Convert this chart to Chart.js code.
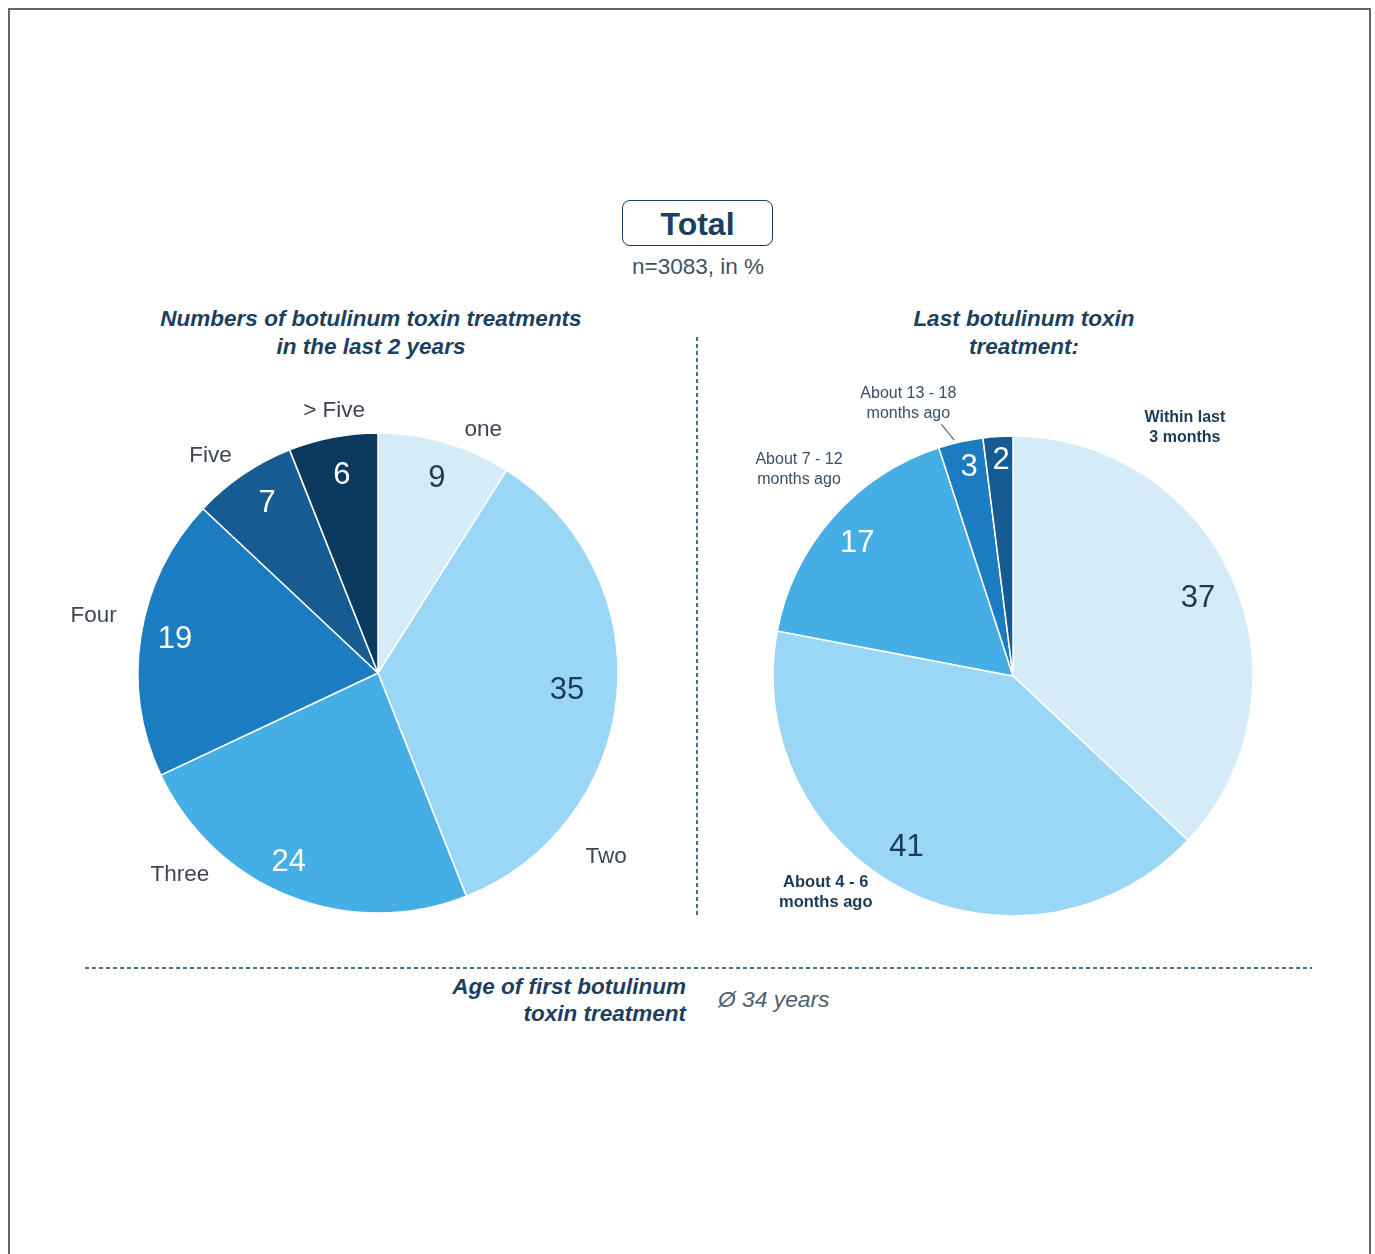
<!DOCTYPE html>
<html>
<head>
<meta charset="utf-8">
<script src="https://cdn.jsdelivr.net/npm/chart.js@4/dist/chart.umd.min.js"></script>
<style>
  html, body { margin: 0; padding: 0; background: #fff; }
  body { width: 1375px; height: 1254px; position: relative; overflow: hidden;
         font-family: "Liberation Sans", Arial, Helvetica, sans-serif; }
  .frame { position: absolute; left: 8px; top: 8px; width: 1359px; height: 1260px;
           border: 2px solid #666; border-bottom: none; }
  .abs { position: absolute; white-space: nowrap; }
  .total-box { position: absolute; left: 622px; top: 200px; width: 149px; height: 44px;
               border: 1.6px solid #1d3f5e; border-radius: 8px; text-align: center;
               font-weight: bold; font-size: 32px; line-height: 46px; color: #1d3f5e; }
  .sub { left: 598px; width: 200px; top: 254px; text-align: center; font-size: 22.5px; color: #3f5366; }
  .title { font-weight: bold; font-style: italic; font-size: 22.5px; line-height: 28px;
           color: #1d3f5e; text-align: center; }
  .vdash { position: absolute; left: 696px; top: 337px; width: 1.6px; height: 578px;
           background: repeating-linear-gradient(to bottom, #4d6d87 0 4px, transparent 4px 7px); }
  .hdash { position: absolute; left: 85px; top: 967px; width: 1227px; height: 1.6px;
           background: repeating-linear-gradient(to right, #4d6d87 0 4px, transparent 4px 7px); }
  canvas { position: absolute; }
</style>
</head>
<body>
<div class="frame"></div>

<div class="total-box">Total</div>
<div class="abs sub">n=3083, in %</div>

<div class="abs title" style="left:121px; width:500px; top:305px;">Numbers of botulinum toxin treatments<br>in the last 2 years</div>
<div class="abs title" style="left:824px; width:400px; top:305px;">Last botulinum toxin<br>treatment:</div>

<div class="vdash"></div>
<div class="hdash"></div>

<div class="abs title" style="left:386px; width:300px; top:973px; text-align:right; line-height:27px;">Age of first botulinum<br>toxin treatment</div>
<div class="abs" style="left:718px; top:986px; font-size:22.8px; font-style:italic; color:#505d6a;">Ø 34 years</div>

<div style="position:absolute; left:58px; top:373px; width:640px; height:600px;"><canvas id="countChart"></canvas></div>
<div style="position:absolute; left:693px; top:376px; width:640px; height:600px;"><canvas id="lastChart"></canvas></div>

<script>
// Number of treatments in the last 2 years (share in %)
const countLabels = ['one', 'Two', 'Three', 'Four', 'Five', '> Five'];
const countShares = [9, 35, 24, 19, 7, 6];

// Time since the last treatment (share in %)
const lastLabels = [
  ['Within last', '3 months'],
  ['About 4 - 6', 'months ago'],
  ['About 7 - 12', 'months ago'],
  ['About 13 - 18', 'months ago'],
  ['']
];
const lastShares = [37, 41, 17, 3, 2];

const blues = ['#d5ebf8', '#9ad6f5', '#45aee4', '#1c7cc2', '#165b92', '#0c3a5e'];
const navy = '#1b3a57';
const labelGrey = '#3d4652';

// Draws the value inside each slice and the category name around the pie.
const sliceLabels = {
  id: 'sliceLabels',
  afterDatasetsDraw(chart, args, opts) {
    const ctx = chart.ctx;
    const meta = chart.getDatasetMeta(0);
    const data = chart.data.datasets[0].data;
    const rad = d => d * Math.PI / 180;
    ctx.save();
    meta.data.forEach((arc, i) => {
      const { x, y, startAngle, endAngle, outerRadius } = arc.getProps(['x', 'y', 'startAngle', 'endAngle', 'outerRadius'], true);
      // value label
      const v = opts.values[i] || [0, 0.855];
      const a = (startAngle + endAngle) / 2 + rad(v[0]);
      const r = outerRadius * v[1];
      ctx.font = opts.valueFont;
      ctx.textAlign = 'center';
      ctx.textBaseline = 'middle';
      ctx.fillStyle = opts.valueColors[i];
      ctx.fillText(String(data[i]), x + r * Math.cos(a), y + r * Math.sin(a) + 3);

      // category label (angle clockwise from 12 o'clock, distance from centre)
      const c = opts.cats[i];
      if (!c) return;
      const ca = rad(c.angle - 90);
      const cx = x + c.dist * Math.cos(ca);
      const cy = y + c.dist * Math.sin(ca);
      const lines = [].concat(chart.data.labels[i]);
      ctx.font = c.font || opts.catFont;
      ctx.fillStyle = c.color || labelGrey;
      const lh = c.lineHeight || 20;
      lines.forEach((t, k) => {
        ctx.fillText(t, cx, cy + (k - (lines.length - 1) / 2) * lh);
      });
      if (c.leader) {
        // short pointer from the label to the slice edge
        const edge = startAngle + (endAngle - startAngle) * c.leader.at;
        const ex = x + (outerRadius + 3) * Math.cos(edge);
        const ey = y + (outerRadius + 3) * Math.sin(edge);
        const la = rad(c.leader.angle - 90);
        ctx.strokeStyle = '#4d6d87';
        ctx.lineWidth = 1.2;
        ctx.beginPath();
        ctx.moveTo(x + c.leader.dist * Math.cos(la), y + c.leader.dist * Math.sin(la));
        ctx.lineTo(ex, ey);
        ctx.stroke();
      }
    });
    ctx.restore();
  }
};

function pieOptions(labelOpts) {
  return {
    responsive: true,
    maintainAspectRatio: false,
    animation: false,
    radius: 240,
    layout: { padding: 0 },
    plugins: {
      legend: { display: false },
      tooltip: { enabled: false },
      sliceLabels: labelOpts
    }
  };
}

new Chart(document.getElementById('countChart'), {
  type: 'pie',
  data: {
    labels: countLabels,
    datasets: [{
      data: countShares,
      backgroundColor: blues,
      borderColor: '#ffffff',
      borderWidth: 1.5
    }]
  },
  options: pieOptions({
    valueFont: '31px "Liberation Sans", Arial, sans-serif',
    catFont: '22.5px "Liberation Sans", Arial, sans-serif',
    valueColors: [navy, navy, '#ffffff', '#ffffff', '#ffffff', '#ffffff'],
    values: [[0.4, 0.86], [-0.9, 0.79], [4, 0.86], [1.3, 0.86], [1.5, 0.855], [0.6, 0.85]],
    cats: [
      { angle: 23.4, dist: 265 },
      { angle: 128.9, dist: 293 },
      { angle: 224.4, dist: 283 },
      { angle: 281.3, dist: 290 },
      { angle: 322.3, dist: 274 },
      { angle: 350.5, dist: 266 }
    ]
  }),
  plugins: [sliceLabels]
});

new Chart(document.getElementById('lastChart'), {
  type: 'pie',
  data: {
    labels: lastLabels,
    datasets: [{
      data: lastShares,
      backgroundColor: blues.slice(0, 5),
      borderColor: '#ffffff',
      borderWidth: 1.5
    }]
  },
  options: pieOptions({
    valueFont: '31px "Liberation Sans", Arial, sans-serif',
    catFont: '16px "Liberation Sans", Arial, sans-serif',
    valueColors: [navy, navy, '#ffffff', '#ffffff', '#ffffff'],
    values: [[0, 0.84], [5.3, 0.83], [-0.4, 0.86], [0.9, 0.9], [0.5, 0.91]],
    cats: [
      { angle: 34.7, dist: 302, font: 'bold 16px "Liberation Sans", Arial, sans-serif', color: navy },
      { angle: 220.9, dist: 286, font: 'bold 16.5px "Liberation Sans", Arial, sans-serif', color: navy },
      { angle: 313.9, dist: 297, color: '#3a4f66' },
      { angle: 339.0, dist: 292, color: '#3a4f66', leader: { angle: 344.1, dist: 262, at: 0.37 } },
      null
    ]
  }),
  plugins: [sliceLabels]
});
</script>
</body>
</html>
